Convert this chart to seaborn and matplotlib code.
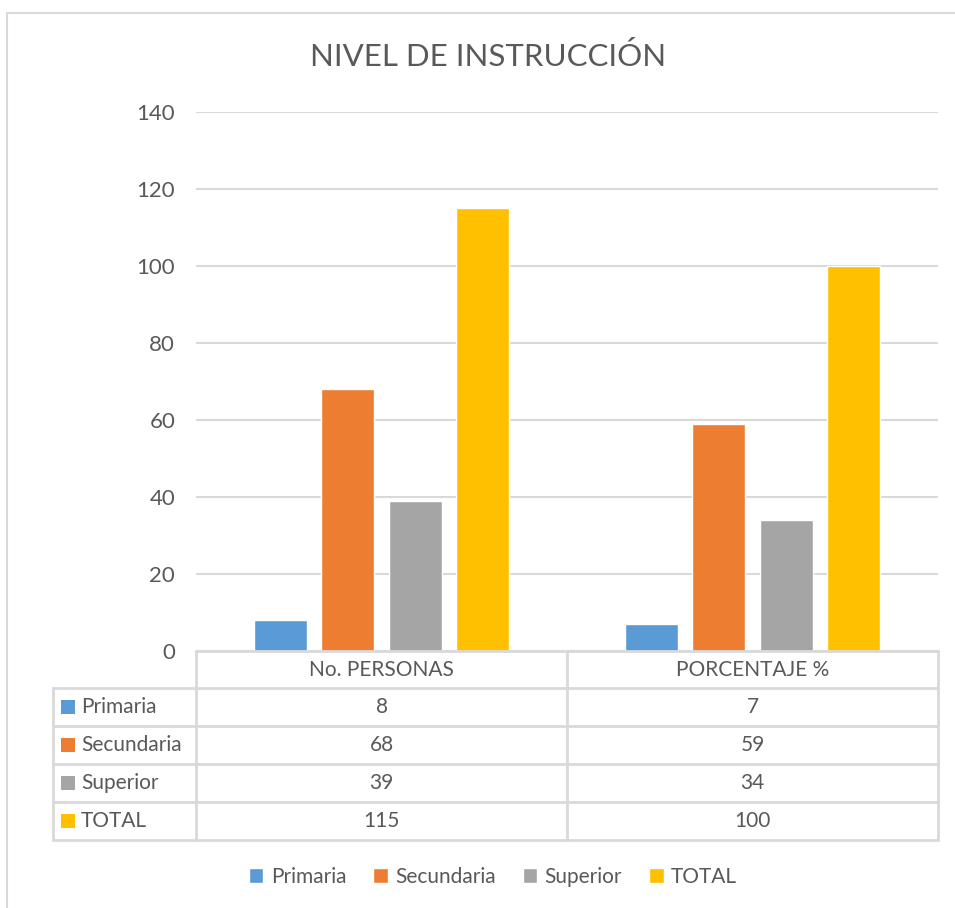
import pandas as pd
import matplotlib.pyplot as plt
from matplotlib.lines import Line2D
from matplotlib.patches import Rectangle
import seaborn as sns

# datos
grupos = ['No. PERSONAS', 'PORCENTAJE %']
niveles = ['Primaria', 'Secundaria', 'Superior', 'TOTAL']
personas = [8, 68, 39, 115]
porcentaje = [7, 59, 34, 100]
colores = ['#5B9BD5', '#ED7D31', '#A5A5A5', '#FFC000']
yticks = [0, 20, 40, 60, 80, 100, 120, 140]

df = pd.DataFrame({
    'grupo': [grupos[0]] * 4 + [grupos[1]] * 4,
    'nivel': niveles * 2,
    'valor': personas + porcentaje,
})

sns.set_style('white')
plt.rcParams['font.family'] = ['Lato', 'DejaVu Sans']
gris_txt = '#595959'
gris_lin = '#D9D9D9'
fs = 15

W, H = 955, 908
fig = plt.figure(figsize=(W / 100, H / 100), dpi=100)

def fx(x):
    return x / W

def fy(y):
    return 1 - y / H

# borde del area del grafico
fig.add_artist(Line2D([fx(7), fx(7)], [fy(13), fy(908)], color=gris_lin, lw=1.5))
fig.add_artist(Line2D([fx(7), fx(955)], [fy(13), fy(13)], color=gris_lin, lw=1.5))

# area de barras
L, R, T, B = 196, 938, 112, 651
ax = fig.add_axes([fx(L), fy(B), fx(R - L), (B - T) / H])
sns.barplot(data=df, x='grupo', y='valor', hue='nivel', hue_order=niveles,
            palette=colores, width=0.726, gap=0.21, saturation=1, ax=ax)
handles, labels = ax.get_legend_handles_labels()
ax.get_legend().remove()
ax.set_ylim(0, 140)
ax.set_xlim(-0.5, 1.5)
ax.set_yticks(yticks)
ax.set_yticklabels([str(v) for v in yticks], fontsize=16, color=gris_txt)
ax.set_xticks([])
ax.set_xlabel('')
ax.set_ylabel('')
ax.tick_params(axis='y', length=0, pad=15)
for s in ax.spines.values():
    s.set_visible(False)
ax.grid(axis='y', color=gris_lin, lw=1.5)
ax.set_axisbelow(True)

fig.text(fx(488), fy(57), 'NIVEL DE INSTRUCCIÓN', ha='center', va='center',
         fontsize=22.5, color=gris_txt)

# tabla de datos
tx = fig.add_axes([0, 0, 1, 1])
tx.set_xlim(0, W)
tx.set_ylim(H, 0)
tx.axis('off')
col_x = [53, 196, 567, 938]
row_y = [651, 688, 726, 764, 802, 840]
lw_t = 2
tx.plot([col_x[1], col_x[3]], [row_y[0], row_y[0]], color=gris_lin, lw=lw_t)
for y in row_y[1:]:
    tx.plot([col_x[0], col_x[3]], [y, y], color=gris_lin, lw=lw_t)
tx.plot([col_x[0], col_x[0]], [row_y[1], row_y[-1]], color=gris_lin, lw=lw_t)
for x in col_x[1:]:
    tx.plot([x, x], [row_y[0], row_y[-1]], color=gris_lin, lw=lw_t)

for j, g in enumerate(grupos):
    cx = (col_x[j + 1] + col_x[j + 2]) / 2
    tx.text(cx, (row_y[0] + row_y[1]) / 2, g, ha='center', va='center',
            fontsize=fs, color=gris_txt)

valores = [personas, porcentaje]
for i, n in enumerate(niveles):
    cy = (row_y[i + 1] + row_y[i + 2]) / 2
    tx.add_patch(Rectangle((61, cy - 7), 14, 14, color=colores[i], lw=0))
    tx.text(81, cy, n, ha='left', va='center', fontsize=fs, color=gris_txt)
    for j in range(2):
        cx = (col_x[j + 1] + col_x[j + 2]) / 2
        tx.text(cx, cy, str(valores[j][i]), ha='center', va='center',
                fontsize=fs, color=gris_txt)

# leyenda
fig.legend(handles, labels, loc='center', bbox_to_anchor=(fx(493), fy(877)),
           ncol=4, frameon=False, fontsize=fs, labelcolor=gris_txt,
           handlelength=0.7, handleheight=0.7, handletextpad=0.35,
           columnspacing=1.3)

fig.savefig('out.png', dpi=100)
